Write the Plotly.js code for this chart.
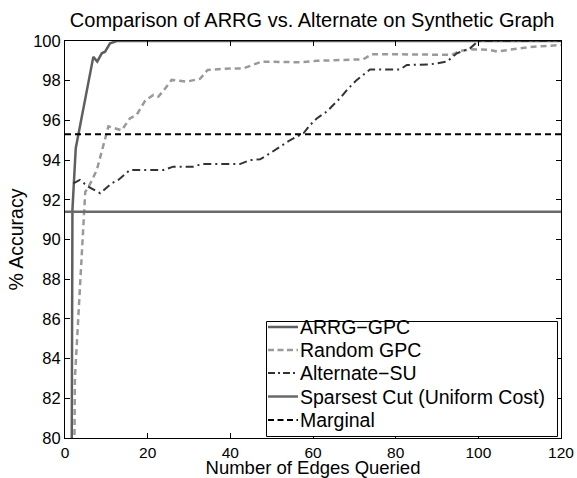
<!DOCTYPE html>
<html>
<head>
<meta charset="utf-8">
<script src="https://cdn.plot.ly/plotly-3.0.1.min.js"></script>
<style>html,body{margin:0;padding:0;background:#fff;}#chart{width:577px;height:478px;}</style>
</head>
<body>
<div id="chart"></div>
<script>
// ARRG-GPC
const arrgX = [1.5, 1.8, 2.6, 6.85, 7.8, 8.9, 9.7, 10.9, 12.5, 120];
const arrgY = [70, 91.5, 94.6, 99.2, 98.96, 99.38, 99.46, 99.88, 100, 100];
// Random GPC
const randX = [1.5, 2.4, 4.9, 5.6, 7.7, 8.9, 10.5, 13.7, 15.7, 17.4, 19.4, 21.4, 22.6, 24.2, 25.8, 29.4, 32.7, 34.5, 39.9, 43.1, 47.6, 56.9, 60.9, 72.2, 74.2, 81.1, 93.6, 95.6, 98.8, 102.8, 104.5, 112.5, 120];
const randY = [60, 83, 92.4, 92.6, 93.5, 94.5, 95.7, 95.5, 96.1, 96.3, 97.0, 97.28, 97.2, 97.6, 98.04, 97.95, 98.1, 98.54, 98.62, 98.62, 98.96, 98.93, 99.0, 99.08, 99.33, 99.33, 99.3, 99.5, 99.58, 99.55, 99.47, 99.7, 99.8];
// Alternate-SU
const altX = [2.0, 3.6, 5.6, 8.5, 11.3, 12.9, 15.7, 23.8, 26.2, 31.0, 33.1, 42.3, 44.8, 47.2, 49.6, 52, 54.4, 57.7, 59.3, 60.9, 63.3, 66.5, 68.5, 70.6, 73.8, 81.1, 82.7, 88.3, 92.4, 94.8, 98, 100, 120];
const altY = [92.83, 93.0, 92.66, 92.33, 92.83, 93.0, 93.5, 93.5, 93.67, 93.67, 93.8, 93.8, 94.0, 94.04, 94.34, 94.67, 95.0, 95.35, 95.77, 96.1, 96.44, 97.11, 97.6, 98.04, 98.57, 98.57, 98.79, 98.82, 98.96, 99.38, 99.63, 100, 100];
// Constant baselines
const flatX = [0, 120];
const sparsestY = [91.4, 91.4];
const marginalY = [95.3, 95.3];
const seriesNames = ["ARRG\u2212GPC", "Random GPC", "Alternate\u2212SU", "Sparsest Cut (Uniform Cost)", "Marginal"];
const xTicks = [0, 20, 40, 60, 80, 100, 120];
const yTicks = [80, 82, 84, 86, 88, 90, 92, 94, 96, 98, 100];
const xTitle = "Number of Edges Queried";
const yTitle = "% Accuracy";
const chartTitle = "Comparison of ARRG vs. Alternate on Synthetic Graph";

const FONT = "Liberation Sans, Arial, Helvetica, sans-serif";

const lineStyles = [
  {color: "#5f5f5f", width: 2.5},
  {color: "#9a9a9a", width: 2.5, dash: "6px,4px"},
  {color: "#333333", width: 2, dash: "8px,4px,2px,4px"},
  {color: "#6a6a6a", width: 2.5},
  {color: "#000000", width: 2, dash: "6px,4px"}
];
const xs = [arrgX, randX, altX, flatX, flatX];
const ys = [arrgY, randY, altY, sparsestY, marginalY];

const traces = seriesNames.map((n, i) => ({x: xs[i], y: ys[i], name: n, mode: "lines", line: lineStyles[i], showlegend: false}));

// Legend box (MATLAB-style, compact rows)
const legBox = {x0: 0.40625, x1: 0.99294, y0: 0.00378, y1: 0.29345};
const legRowY = [0.2796, 0.2217, 0.1637, 0.1045, 0.0453];
const legSampleX = [0.4093, 0.4698];
const legTextX = 0.4718;

const shapes = [{type: "rect", xref: "paper", yref: "paper", x0: legBox.x0, x1: legBox.x1, y0: legBox.y0, y1: legBox.y1,
  line: {color: "#000", width: 1}, fillcolor: "#fff", layer: "above"}];
const annotations = [];
seriesNames.forEach((n, i) => {
  const ls = Object.assign({}, lineStyles[i]);
  if (i === 1 || i === 4) ls.dash = "6px,3.5px";
  if (i === 2) ls.dash = "7px,3px,2px,3px";
  shapes.push({type: "line", xref: "paper", yref: "paper", x0: legSampleX[0], x1: legSampleX[1], y0: legRowY[i], y1: legRowY[i], line: ls, layer: "above"});
  annotations.push({text: n, xref: "paper", yref: "paper", x: legTextX, y: legRowY[i], xanchor: "left", yanchor: "middle", showarrow: false,
    font: {family: FONT, size: 19.5, color: "#000"}, borderpad: 0});
});

const axisCommon = {
  showline: true, linecolor: "#000", linewidth: 1, mirror: "ticks",
  ticks: "inside", ticklen: 5, tickcolor: "#000", tickwidth: 1,
  showgrid: false, zeroline: false,
  tickfont: {family: FONT, size: 16.5, color: "#000"}
};

const layout = {
  width: 577, height: 478,
  margin: {l: 65, r: 16, t: 41, b: 40},
  paper_bgcolor: "#fff", plot_bgcolor: "#fff",
  font: {family: FONT, color: "#000"},
  showlegend: false,
  title: {text: chartTitle, font: {family: FONT, size: 20, color: "#000"}, x: 0.541, xanchor: "center", y: 0.958, yanchor: "middle"},
  xaxis: Object.assign({}, axisCommon, {range: [0, 120], tickvals: xTicks, ticktext: xTicks.map(String),
    tickfont: {family: FONT, size: 15.5, color: "#000"},
    title: {text: xTitle, font: {family: FONT, size: 18.5, color: "#000"}, standoff: 0}}),
  yaxis: Object.assign({}, axisCommon, {range: [80, 100], tickvals: yTicks, ticktext: yTicks.map(String),
    title: {text: yTitle, font: {family: FONT, size: 19.5, color: "#000"}, standoff: 4}}),
  shapes: shapes,
  annotations: annotations
};

Plotly.newPlot("chart", traces, layout, {displayModeBar: false, staticPlot: true});
</script>
</body>
</html>
